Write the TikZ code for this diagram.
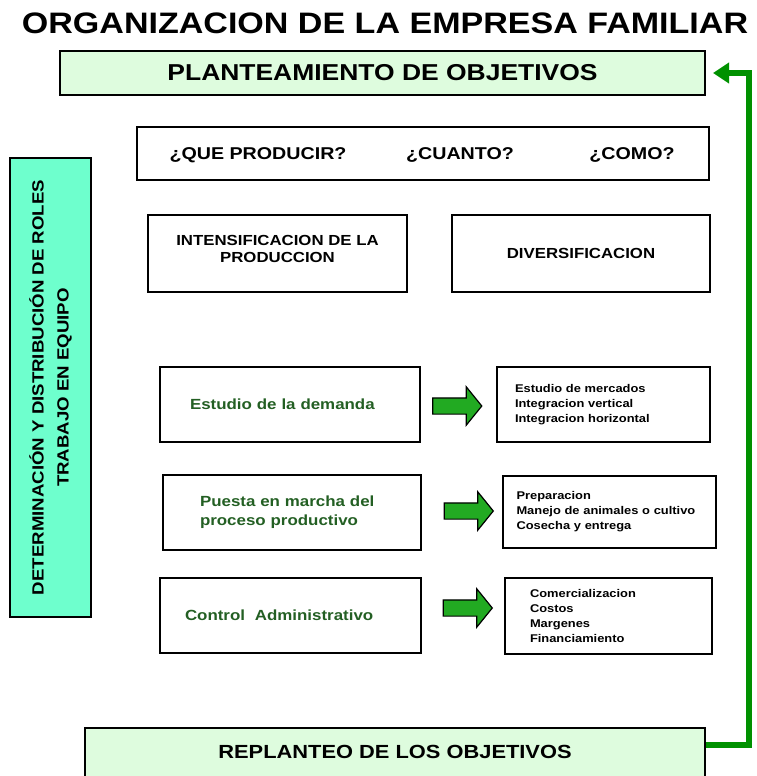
\documentclass[tikz,border=0pt]{standalone}
\usepackage{fontspec}
\setmainfont{Liberation Sans}[FakeStretch=1.15]
\usetikzlibrary{shapes.arrows, arrows.meta, calc}
\definecolor{palegreen}{RGB}{222,252,222}
\definecolor{aqua}{RGB}{110,255,205}
\definecolor{blockgreen}{RGB}{34,170,34}
\definecolor{loopgreen}{RGB}{0,145,0}
\definecolor{darkgreen}{RGB}{35,95,35}

\begin{document}
\begin{tikzpicture}[x=1pt,y=-1pt,
  every node/.style={font=\bfseries},
  box/.style={draw,line width=2pt,inner sep=0pt},
  objbox/.style={box,fill=palegreen},
  stagebox/.style={box,align=left,minimum height=75pt,text=darkgreen,font=\bfseries\fontsize{14.7}{19}\selectfont},
  listbox/.style={box,align=left,minimum height=75pt,font=\bfseries\fontsize{11.2}{15}\selectfont},
  blockarrow/.style={draw,line width=1.2pt,fill=blockgreen,single arrow,single arrow head extend=11pt,
    single arrow head indent=0pt,single arrow tip angle=102,minimum height=49pt,inner xsep=0pt,inner ysep=7.5pt}]
  \useasboundingbox (0,0) rectangle (756,776);
  \clip (0,0) rectangle (756,776);
  \node[font=\bfseries\fontsize{29.6}{32}\selectfont] (title) at (385,23) {ORGANIZACION DE LA EMPRESA FAMILIAR};
  \node[objbox,minimum width=645pt,minimum height=44pt,font=\bfseries\fontsize{23}{26}\selectfont] (plan) at (382.5,73) {PLANTEAMIENTO DE OBJETIVOS};
  % preguntas
  \node[box,minimum width=572pt,minimum height=53pt] (quest) at (423,153.5) {};
  \path (258,155) node[font=\bfseries\fontsize{17.1}{20}\selectfont] (q1) {¿QUE PRODUCIR?}
    (460,155) node[font=\bfseries\fontsize{17.1}{20}\selectfont] (q2) {¿CUANTO?}
    (632,155) node[font=\bfseries\fontsize{17.1}{20}\selectfont] (q3) {¿COMO?};
  \node[box,minimum width=259pt,minimum height=77pt,align=center,text depth=10pt,font=\bfseries\fontsize{14.6}{17}\selectfont] (inten) at (277.5,253.5) {INTENSIFICACION DE LA\\PRODUCCION};
  \node[box,minimum width=258pt,minimum height=77pt,font=\bfseries\fontsize{14.6}{17}\selectfont] (divers) at (581,253.5) {DIVERSIFICACION};
  \node[box,fill=aqua,rotate=90,minimum width=459pt,minimum height=81pt,align=center,font=\bfseries\fontsize{16.2}{25}\selectfont] (roles) at (50.5,387.5) {DETERMINACIÓN Y DISTRIBUCIÓN DE ROLES\\TRABAJO EN EQUIPO};
  % etapas
  \node[stagebox,inner xsep=30pt,text width=200pt] (dem) at (290,404) {Estudio de la demanda};
  \node[stagebox,inner xsep=37pt,text width=184pt] (puesta) at (292,512.5) {Puesta en marcha del\\proceso productivo};
  \node[stagebox,inner xsep=25pt,text width=211pt] (control) at (290.5,615.5) {Control~ Administrativo};
  \node[listbox,inner xsep=18pt,text width=177pt] (merc) at (603.5,404.5) {Estudio de mercados\\Integracion vertical\\Integracion horizontal};
  \node[listbox,inner xsep=14pt,text width=185pt,minimum height=72pt] (prep) at (609,512) {Preparacion\\Manejo de animales o cultivo\\Cosecha y entrega};
  \node[listbox,inner xsep=25pt,text width=157pt,minimum height=76pt] (comer) at (608.5,616) {Comercializacion\\Costos\\Margenes\\Financiamiento};
  \node[blockarrow] (a1) at (454,406) {};
  \node[blockarrow] (a2) at (465.5,511) {};
  \node[blockarrow] (a3) at (464.5,608) {};
  % retroalimentacion
  \node[objbox,anchor=north,minimum width=620pt,text height=26pt,text depth=20pt,inner ysep=4pt,font=\bfseries\fontsize{19}{22}\selectfont] (rep) at (395,727) {REPLANTEO DE LOS OBJETIVOS};
  \draw[loopgreen,line width=6pt,-{Triangle[length=16pt,width=20pt]},shorten >=7pt]
    ($(rep.north east)+(0,18)$) -- ++(43,0) |- (plan.east);
\end{tikzpicture}
\end{document}
